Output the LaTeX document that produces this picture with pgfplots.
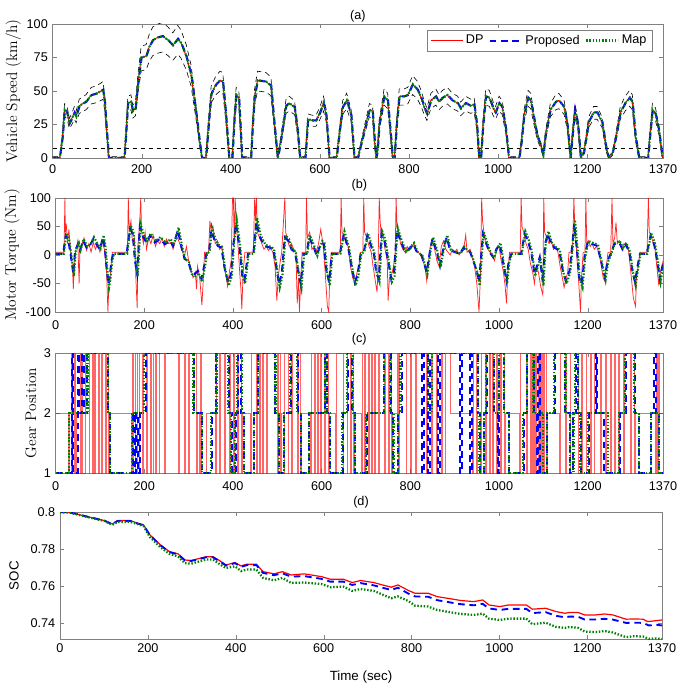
\documentclass[border=0pt]{standalone}
\usepackage{fontspec}
\setsansfont{Liberation Sans}
\usepackage{pgfplots}
\usepackage{pgfplotstable}
\pgfplotsset{compat=1.18}
\definecolor{mgreen}{rgb}{0,0.5,0}
\definecolor{frame}{gray}{0.5}

\pgfplotstableread{
t v
0 0
16 0
22 15
27 36
31 35
34 32
38 26
44 30
49 34
53 31
60 39
75 42
87 47
98 48
109 50
113 51
117 42
121 22
126 0
161 0
165 20
169 41
176 42
180 35
186 37
191 54
199 75
210 76
217 83
225 88
236 90
247 91
259 88
270 84
281 89
288 86
300 76
311 62
322 34
330 12
335 0
344 0
350 25
356 48
367 55
376 58
382 57
389 32
396 0
403 0
408 30
412 47
418 45
422 20
425 0
445 0
449 25
453 45
460 58
479 57
490 54
498 24
505 0
508 5
513 15
524 39
531 41
543 38
550 20
555 0
567 0
573 29
584 28
591 28
599 33
608 41
614 32
619 10
621 0
637 0
644 20
651 38
660 43
670 32
677 0
685 0
692 10
711 36
718 35
722 15
726 0
729 5
733 25
744 46
752 43
758 20
763 0
767 0
772 25
778 46
789 46
797 47
808 55
819 51
827 45
834 38
840 33
849 43
860 46
867 42
875 45
886 47
897 43
909 41
916 37
927 41
938 39
946 40
952 25
957 0
961 0
966 25
972 46
980 45
989 37
994 34
1002 41
1009 38
1017 22
1024 0
1047 0
1052 12
1058 32
1067 45
1073 43
1080 30
1088 16
1095 10
1101 2
1106 17
1117 36
1129 42
1136 43
1148 38
1155 25
1162 0
1166 15
1172 36
1179 25
1185 0
1192 4
1203 27
1214 34
1222 34
1233 27
1243 6
1248 0
1256 3
1263 14
1274 34
1285 41
1295 45
1301 42
1308 16
1316 0
1336 0
1340 15
1346 36
1353 33
1361 20
1368 1
1370 0
}\speed

\pgfplotstableread{
t q
0 2
17 2
23 34
29 25
36 -10
40 -33
44 8
51 19
55 8
62 25
70 13
77 16
85 28
92 19
100 10
107 31
111 13
115 -22
119 -51
122 -39
126 -10
130 2
160 2
168 46
174 37
179 -10
184 -33
190 49
198 31
205 22
213 34
224 22
235 28
247 19
258 25
265 16
276 43
284 13
291 -7
299 -10
306 -30
314 -33
321 -28
329 -42
336 -16
340 2
346 5
351 43
359 25
366 16
374 13
381 -22
389 -48
396 -33
401 19
407 55
415 13
421 -36
426 -45
434 2
446 2
453 58
461 31
472 16
483 13
491 10
498 -22
504 -51
510 -33
517 31
525 25
532 10
540 5
547 -28
553 -51
559 2
566 2
572 31
581 16
589 -1
595 13
600 22
605 19
611 -28
617 -48
623 2
641 2
650 37
660 13
668 -22
675 -48
681 -35
688 2
695 5
703 34
710 19
718 2
723 -30
729 -42
735 37
742 25
750 -10
757 -42
763 -33
770 43
778 25
789 5
800 13
807 19
815 5
826 -1
837 -30
845 10
850 28
860 5
867 -19
875 13
882 31
890 8
901 5
912 2
920 13
927 8
935 5
942 -10
950 -28
955 -48
959 -10
964 37
972 19
979 5
987 -4
994 10
1002 19
1010 -16
1017 -45
1022 -10
1028 2
1050 2
1058 37
1065 25
1073 5
1080 -33
1086 -19
1092 -4
1099 -48
1104 19
1110 37
1118 19
1125 13
1136 8
1144 -28
1151 -45
1159 -28
1163 -1
1170 55
1176 8
1181 -39
1187 -51
1193 -4
1200 22
1211 19
1222 16
1230 -10
1239 -39
1245 -10
1252 2
1260 19
1271 22
1279 10
1286 19
1294 5
1301 -28
1307 -48
1312 -22
1318 2
1333 2
1342 34
1350 19
1357 -10
1363 -42
1368 -22
1370 -15
}\torqueProp

\pgfplotstableread{
t q
0 5
19 5
21 100
22 40
24 55
27 20
30 45
34 5
38 -20
40 -60
42 -10
46 10
50 25
53 -50
55 10
60 20
64 30
70 8
75 20
80 5
85 22
90 10
95 20
100 5
105 25
110 10
115 -30
118 -100
120 -55
123 -40
126 -10
128 5
162 5
164 100
166 40
170 60
173 25
178 30
181 -40
184 -93
186 20
190 60
192 100
194 40
198 20
202 40
205 10
210 30
215 20
220 35
225 15
230 25
235 20
240 30
245 15
250 28
255 20
260 22
265 10
270 25
275 30
280 20
285 10
290 -5
295 15
300 -10
305 -25
310 -40
315 -30
318 -60
320 -20
325 -40
330 -88
333 -45
336 5
345 5
348 60
351 40
355 50
360 20
365 25
370 10
375 15
380 -20
385 -40
388 -55
392 -30
396 -10
399 100
401 100
403 20
405 100
408 50
412 10
416 -40
418 -60
420 -95
423 -30
427 5
446 5
449 100
451 60
453 100
455 40
460 30
465 20
470 10
475 15
480 8
485 12
490 5
495 -20
499 -80
502 -40
505 -20
510 5
517 100
519 40
522 30
527 15
532 20
537 10
542 5
545 -85
548 -40
550 -100
553 -40
556 5
564 5
566 100
568 30
573 40
578 10
583 15
588 5
593 20
598 45
603 20
608 -30
613 -90
616 -100
619 -20
622 5
642 5
644 100
646 40
650 35
655 20
660 15
665 -20
670 -40
675 -50
680 -30
684 -20
688 5
693 5
695 100
697 40
702 30
707 15
712 5
716 -20
720 -40
725 -65
727 -30
730 100
732 60
735 30
738 40
743 10
748 -10
750 -80
753 -40
758 -35
762 -20
766 5
768 100
770 50
774 40
778 20
783 10
788 5
793 15
798 8
803 12
808 20
813 10
818 5
823 0
828 -10
833 -20
837 -45
840 -20
845 15
850 25
855 10
860 -10
865 -20
870 15
875 25
880 10
885 5
890 0
895 10
900 5
905 10
910 0
915 5
920 8
925 35
928 5
935 10
940 -5
945 -20
950 -50
955 -100
958 -40
961 100
963 60
966 40
970 20
975 10
980 5
985 0
990 -10
995 10
1000 15
1005 -10
1010 -30
1014 -55
1017 -85
1020 -30
1024 5
1048 5
1050 100
1052 50
1056 40
1061 20
1066 10
1071 -15
1076 -30
1080 -50
1084 -20
1089 -30
1094 -55
1099 -70
1101 100
1103 40
1108 30
1113 20
1118 25
1123 10
1128 15
1133 5
1138 -20
1143 -40
1147 -57
1150 -45
1155 -30
1158 5
1166 5
1169 100
1171 50
1174 20
1177 -20
1180 -50
1184 -100
1186 -40
1190 5
1194 5
1196 100
1198 20
1202 25
1206 15
1210 20
1215 10
1220 15
1225 5
1230 -15
1235 -40
1238 -45
1242 -20
1246 5
1252 5
1255 100
1257 20
1261 30
1264 57
1267 20
1272 25
1277 10
1282 20
1287 15
1292 10
1296 -20
1300 -50
1303 -75
1308 -90
1310 -40
1314 -20
1318 5
1334 5
1337 100
1339 40
1343 35
1348 20
1352 10
1356 -20
1360 -50
1364 -30
1368 -20
1370 -10
}\torqueDP

\pgfplotstableread{
t g
0 1
31 2
72 3
118 2
123 1
172 2
200 3
311 2
330 1
350 2
363 3
388 2
396 1
405 2
410 3
420 2
424 1
448 2
456 3
496 2
503 1
515 2
528 3
545 2
553 1
572 2
607 3
613 2
619 1
646 2
658 3
670 2
676 1
700 2
740 3
755 2
762 1
772 2
778 3
840 2
848 3
952 2
956 1
966 2
970 3
988 2
1000 3
1012 2
1022 1
1055 2
1063 3
1078 2
1100 1
1108 2
1125 3
1150 2
1160 1
1168 2
1172 3
1178 2
1184 1
1200 2
1245 1
1270 2
1285 3
1305 2
1315 1
1342 2
1360 1
1370 1
}\gearMap

\pgfplotstableread{
t g
0 1
36 3
39 1
50 3
53 2
60 3
63 2
70 3
118 2
123 1
175 2
178 1
182 2
186 1
190 2
203 3
312 2
331 1
352 2
362 3
390 2
397 1
406 2
411 3
419 2
424 1
448 2
457 3
495 2
503 1
516 2
530 3
546 2
553 1
572 2
608 3
612 2
619 1
648 2
659 3
669 2
676 1
702 2
741 3
756 2
762 1
773 2
781 3
826 1
830 3
841 1
845 3
863 1
867 3
912 1
916 3
935 1
939 3
952 2
957 1
966 2
972 3
989 2
998 1
1001 3
1012 2
1023 1
1056 2
1064 3
1079 2
1086 1
1089 3
1092 1
1108 2
1126 3
1149 2
1160 1
1168 2
1173 3
1178 2
1185 1
1202 2
1219 3
1222 2
1236 1
1272 2
1286 3
1306 2
1316 1
1343 2
1350 3
1354 2
1362 1
1370 1
}\gearProp

\pgfplotstableread{
t g
0 2
28 1
30 2
35 3
36 1
42 3
44 1
47 2
55 3
56 1
58 3
60 1
66 3
68 2
75 1
76 3
82 1
84 3
88 1
90 3
96 1
98 3
104 1
106 3
112 1
114 3
118 1
122 2
170 1
172 3
176 1
179 3
184 1
188 3
196 1
198 3
205 1
207 3
214 1
216 3
220 1
221 3
226 1
228 3
233 1
235 3
246 1
248 3
276 1
278 3
290 1
292 3
300 1
302 3
318 1
320 2
325 1
327 3
329 1
340 2
360 1
362 3
370 1
372 3
380 1
382 3
392 1
394 3
400 1
402 3
410 1
412 3
420 1
422 2
440 1
442 3
452 1
454 3
460 1
462 3
466 1
468 3
476 1
478 3
500 1
502 3
507 1
509 2
515 1
517 3
524 1
526 3
532 1
534 3
545 1
547 3
552 1
554 2
575 1
577 3
583 1
585 3
590 1
592 3
598 1
600 3
606 1
608 3
616 1
618 2
632 1
634 3
648 1
650 3
657 1
659 3
664 1
666 3
672 1
674 2
690 1
692 3
697 1
699 3
705 1
707 3
712 1
714 3
720 1
722 3
729 1
731 3
742 1
744 3
750 1
752 3
758 1
760 2
770 3
772 1
776 3
790 1
792 3
800 1
802 3
812 1
814 3
836 1
838 3
848 1
850 3
858 1
860 3
870 1
872 3
878 1
880 3
890 2
940 1
942 3
950 1
952 2
958 1
960 3
970 1
972 3
978 1
980 3
986 1
988 3
994 1
996 3
1004 1
1006 3
1012 1
1014 2
1046 1
1048 3
1062 1
1064 3
1070 1
1072 3
1076 1
1077 3
1080 1
1081 3
1084 1
1085 3
1088 1
1089 3
1092 1
1093 3
1096 1
1097 3
1100 1
1102 3
1106 1
1108 2
1136 1
1138 3
1150 1
1152 3
1160 1
1162 2
1178 1
1180 3
1186 1
1188 3
1196 1
1198 3
1206 1
1208 3
1214 1
1216 3
1228 1
1230 3
1240 1
1242 3
1252 1
1254 3
1260 1
1262 3
1270 1
1272 3
1280 1
1282 3
1296 1
1298 3
1306 1
1308 2
1352 1
1354 3
1358 1
1360 3
1362 2
1370 2
}\gearDP

\pgfplotstableread{
t s
0 0.8
22 0.8
61 0.7977
101 0.7955
119 0.7937
131 0.7955
160 0.7955
178 0.794
190 0.7932
205 0.7877
229 0.7823
249 0.7787
269 0.7775
284 0.7742
299 0.7739
318 0.7751
333 0.776
348 0.776
363 0.7739
378 0.7715
398 0.7728
412 0.771
425 0.7719
447 0.7719
462 0.7679
487 0.7667
506 0.7679
526 0.7661
556 0.7667
595 0.7652
615 0.7638
645 0.7638
665 0.762
684 0.7631
714 0.762
734 0.7607
754 0.7595
769 0.7607
793 0.7577
808 0.7562
838 0.7562
858 0.7544
882 0.7535
912 0.7523
942 0.7517
962 0.7526
976 0.7499
1001 0.749
1021 0.7499
1061 0.7499
1075 0.7476
1105 0.7481
1129 0.7463
1149 0.7454
1159 0.7458
1179 0.7458
1194 0.7445
1219 0.7445
1239 0.745
1258 0.7445
1288 0.7422
1307 0.7423
1327 0.7422
1337 0.7409
1357 0.7414
1370 0.7418
}\socDP

\pgfplotstableread{
t s
0 0.8
22 0.8
61 0.7977
101 0.7955
119 0.7935
131 0.7953
160 0.7953
178 0.7938
190 0.793
205 0.7875
229 0.782
249 0.7785
269 0.7772
284 0.774
299 0.7737
318 0.7748
333 0.7757
348 0.7757
363 0.7735
378 0.7712
398 0.7725
412 0.7705
425 0.7714
447 0.7714
462 0.7672
487 0.766
506 0.767
526 0.7652
556 0.7655
595 0.764
615 0.7625
645 0.7625
665 0.7607
684 0.7617
714 0.7605
734 0.7592
754 0.758
769 0.7592
793 0.756
808 0.7545
838 0.7543
858 0.7525
882 0.7515
912 0.7503
942 0.7497
962 0.7505
976 0.748
1001 0.7472
1021 0.7478
1061 0.7478
1075 0.7455
1105 0.746
1129 0.744
1149 0.7432
1159 0.7436
1179 0.7435
1194 0.742
1219 0.742
1239 0.7424
1258 0.742
1288 0.7402
1307 0.7403
1327 0.7402
1340 0.7388
1357 0.7392
1370 0.7388
}\socProp

\pgfplotstableread{
t s
0 0.8
22 0.7998
61 0.7975
101 0.7953
119 0.7932
131 0.7948
160 0.7948
178 0.7935
190 0.7925
205 0.7865
229 0.781
249 0.7775
269 0.776
284 0.7725
299 0.7722
318 0.7735
333 0.7745
348 0.7745
363 0.772
378 0.7698
398 0.7708
412 0.7682
425 0.769
447 0.769
462 0.7645
487 0.7632
506 0.7645
526 0.7618
556 0.762
595 0.7612
615 0.7595
645 0.7598
665 0.7575
684 0.7585
714 0.7575
734 0.7555
754 0.7535
769 0.7545
793 0.752
808 0.7495
838 0.749
858 0.7472
882 0.7462
912 0.745
942 0.7445
962 0.7452
976 0.7425
1001 0.7418
1021 0.7425
1061 0.7425
1075 0.7395
1105 0.7403
1129 0.738
1149 0.7375
1159 0.738
1179 0.7375
1194 0.7355
1219 0.7352
1239 0.7358
1258 0.735
1288 0.7325
1307 0.733
1327 0.7328
1340 0.7316
1357 0.7318
1370 0.7314
}\socMap

\pgfplotsset{
  panel/.style={
    scale only axis,
    xmin=0, xmax=1370,
    xtick={0,200,400,600,800,1000,1200,1370},
    axis line style={frame},
    tick style={frame},
    major tick length=3pt,
    ticklabel style={font=\sffamily\fontsize{9.5}{11}\selectfont},
    /pgf/number format/assume math mode=true,
    /pgf/number format/1000 sep={},
    scaled ticks=false,
    title style={font=\sffamily\fontsize{9.5}{11}\selectfont, at={(0.5,1)}, anchor=center},
    ylabel style={font=\rmfamily\fontsize{11.5}{13}\selectfont, at={(axis description cs:0,0.5)}, anchor=center},
  },
  dpline/.style={red, line width=0.7pt},
  propline/.style={blue, line width=1.5pt, dash pattern=on 5pt off 3.5pt},
  mapline/.style={mgreen, line width=1.6pt, dash pattern=on 1.1pt off 1.3pt},
}

\begin{document}
\begin{tikzpicture}
\useasboundingbox (0,0) rectangle (510.75pt,-518.25pt);

% (a)
\begin{axis}[panel,
  at={(39.4pt,-18pt)}, anchor=north west,
  width=457.9pt, height=100.5pt,
  ymin=0, ymax=100, ytick={0,25,50,75,100},
  title={(a)}, title style={yshift=-0.5pt},
  ylabel={Vehicle Speed (km/h)}, ylabel style={yshift=29.5pt},
  xticklabel style={yshift=-1.5pt},
  legend style={at={(rel axis cs:0.982,0.955)}, anchor=north east,
    legend columns=3, draw=frame, font=\sffamily\fontsize{9.5}{11}\selectfont,
    inner xsep=2pt, inner ysep=1.5pt,
    /tikz/every even column/.append style={column sep=2pt}},
  legend image code/.code={\draw[mark=none,#1] (0pt,0pt) -- (24pt,0pt);},
]
\addplot[black, dashed, line width=0.5pt, forget plot] coordinates {(0,7.5) (1370,7.5)};
\addplot[black, dash pattern=on 4pt off 3pt, line width=0.45pt, forget plot] table[x=t, y expr=1.1*\thisrow{v}+1] {\speed};
\addplot[black, dash pattern=on 4pt off 3pt, line width=0.45pt, forget plot] table[x=t, y expr=0.88*\thisrow{v}-1] {\speed};
\addplot[dpline] table[x=t, y=v] {\speed};
\addplot[propline] table[x expr=\thisrow{t}+0.8, y=v] {\speed};
\addplot[mapline] table[x expr=\thisrow{t}+0.4, y=v] {\speed};
\legend{DP,Proposed,Map}
\end{axis}

% (b)
\begin{axis}[panel,
  at={(41.7pt,-148.5pt)}, anchor=north west,
  width=455.55pt, height=85.5pt,
  ymin=-100, ymax=100, ytick={-100,-50,0,50,100},
  title={(b)}, title style={yshift=3.75pt},
  ylabel={Motor Torque (Nm)}, ylabel style={yshift=32.7pt},
  xticklabel style={yshift=-3pt},
]
\addplot[red, line width=0.55pt, opacity=0.85] table[x=t, y=q] {\torqueDP};
\addplot[propline] table[x=t, y=q] {\torqueProp};
\addplot[mapline] table[x expr=\thisrow{t}+1.5, y expr=1.12*\thisrow{q}] {\torqueProp};
\end{axis}

% (c)
\begin{axis}[panel,
  at={(41.7pt,-264.75pt)}, anchor=north west,
  width=455.55pt, height=90pt,
  ymin=1, ymax=3, ytick={1,2,3},
  title={(c)}, title style={yshift=4.5pt},
  ylabel={Gear Position}, ylabel style={yshift=18.5pt},
  xticklabel style={yshift=-3pt},
]
\addplot[red, line width=0.5pt, opacity=0.6, const plot] table[x=t, y=g] {\gearDP};
\addplot[propline, const plot] table[x=t, y=g] {\gearProp};
\addplot[mapline, const plot] table[x=t, y=g] {\gearMap};
\end{axis}

% (d)
\begin{axis}[panel,
  at={(45pt,-384.2pt)}, anchor=north west,
  width=451.5pt, height=95.3pt,
  ymin=0.7313, ymax=0.8, ytick={0.74,0.76,0.78,0.8},
  yticklabels={0.74,0.76,0.78,0.8},
  title={(d)}, title style={yshift=1.7pt},
  ylabel={SOC}, ylabel style={font=\sffamily\fontsize{10}{12}\selectfont, yshift=34.5pt},
  xlabel={Time (sec)}, xlabel style={font=\sffamily\fontsize{10}{12}\selectfont, at={(axis description cs:0.5,0)}, anchor=center, yshift=-28.5pt},
]
\addplot[dpline, line width=0.9pt] table[x=t, y=s] {\socDP};
\addplot[propline, line width=1.4pt] table[x=t, y=s] {\socProp};
\addplot[mapline, line width=1.7pt] table[x=t, y=s] {\socMap};
\end{axis}
\end{tikzpicture}
\end{document}
